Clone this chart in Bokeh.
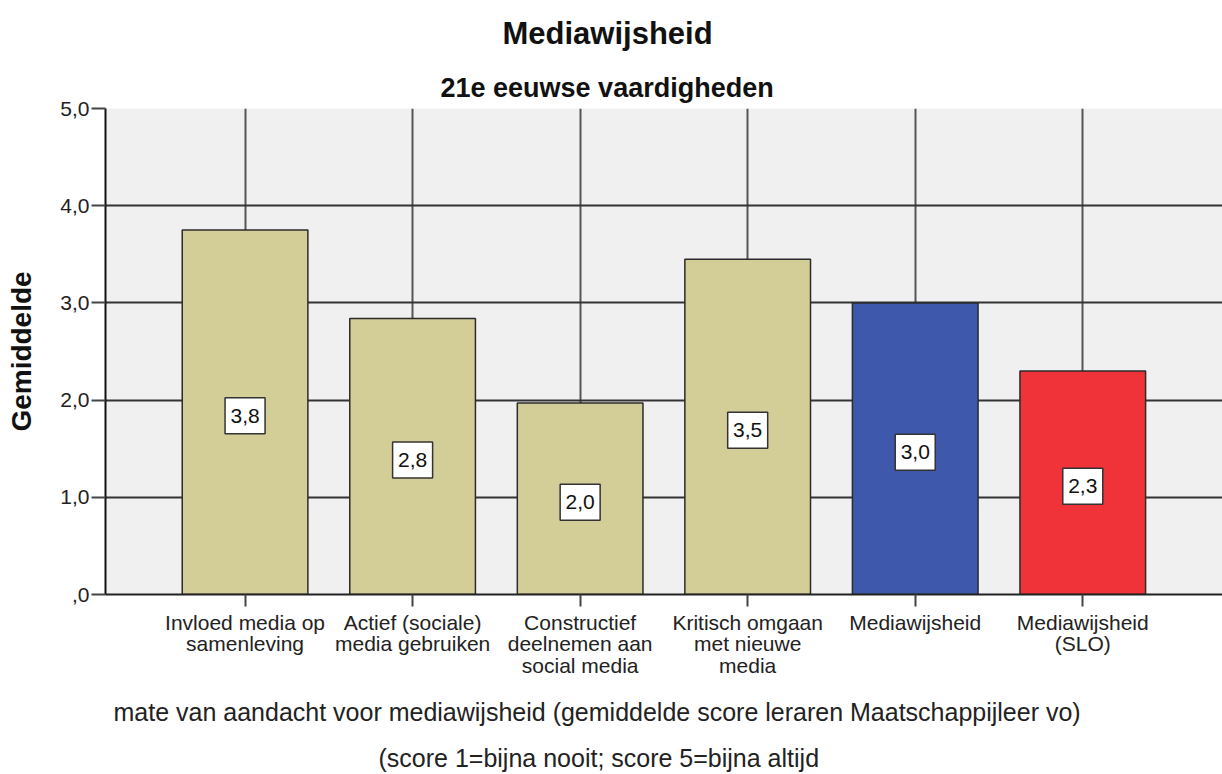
from bokeh.plotting import figure
from bokeh.models import FixedTicker, ColumnDataSource, Range1d, Title
from bokeh.core.properties import value
from bokeh.embed import file_html
from bokeh.resources import INLINE

# ---- data ----
categories = [
    "Invloed media op\nsamenleving",
    "Actief (sociale)\nmedia gebruiken",
    "Constructief\ndeelnemen aan\nsocial media",
    "Kritisch omgaan\nmet nieuwe\nmedia",
    "Mediawijsheid",
    "Mediawijsheid\n(SLO)",
]
means = [3.75, 2.84, 1.97, 3.45, 3.00, 2.30]
value_labels = ["3,8", "2,8", "2,0", "3,5", "3,0", "2,3"]
bar_colors = ["#D3CE97", "#D3CE97", "#D3CE97", "#D3CE97", "#3E58AC", "#EF3338"]
y_ticks = [0, 1, 2, 3, 4, 5]
y_tick_labels = [",0", "1,0", "2,0", "3,0", "4,0", "5,0"]
title_text = "Mediawijsheid"
subtitle_text = "21e eeuwse vaardigheden"
x_title = "mate van aandacht voor mediawijsheid (gemiddelde score leraren Maatschappijleer vo)"
x_note = "(score 1=bijna nooit; score 5=bijna altijd"
y_title = "Gemiddelde"

FONT = "Liberation Sans"
positions = list(range(len(categories)))
label_y = [m / 2 - 0.036 for m in means]

src = ColumnDataSource(dict(x=positions, top=means, color=bar_colors,
                            ly=label_y, txt=value_labels))

p = figure(width=1222, height=774, output_backend="svg", toolbar_location=None,
           x_range=Range1d(-0.833, 5.834), y_range=Range1d(0, 5),
           min_border_left=105, min_border_right=0, min_border_top=108,
           min_border_bottom=180)

p.background_fill_color = "#f0f0f0"
p.border_fill_color = "white"
p.outline_line_color = None

p.vbar(x="x", top="top", bottom=0, width=0.75, source=src, fill_color="color",
       line_color="#2b2b2b", line_width=1.5)

p.rect(x="x", y="ly", width=40, height=36, width_units="screen", height_units="screen",
       source=src, fill_color="white", line_color="#333333", line_width=1.5)
p.text(x="x", y="ly", text="txt", source=src, text_align="center",
       text_baseline="middle", text_font=value(FONT), text_font_size="21px",
       text_color="#111111")

# axes
xa = p.xaxis[0]
xa.ticker = FixedTicker(ticks=positions)
xa.major_label_overrides = {i: c for i, c in zip(positions, categories)}
xa.major_label_text_font = FONT
xa.major_label_text_font_size = "21px"
xa.major_label_text_line_height = 0.95
xa.major_label_text_color = "#222222"
xa.major_label_standoff = 4
xa.major_tick_out = 12
xa.major_tick_in = 0
xa.major_tick_line_color = "#444444"
xa.major_tick_line_width = 2
xa.minor_tick_line_color = None
xa.axis_line_color = "#222222"
xa.axis_line_width = 2

ya = p.yaxis[0]
ya.ticker = FixedTicker(ticks=y_ticks)
ya.major_label_overrides = {t: l for t, l in zip(y_ticks, y_tick_labels)}
ya.major_label_text_font = FONT
ya.major_label_text_font_size = "21px"
ya.major_label_text_color = "#222222"
ya.major_label_standoff = 2
ya.major_tick_out = 14
ya.major_tick_in = 0
ya.major_tick_line_color = "#444444"
ya.major_tick_line_width = 2
ya.minor_tick_line_color = None
ya.axis_line_color = "#111111"
ya.axis_line_width = 2
ya.axis_label = y_title
ya.axis_label_text_font = FONT
ya.axis_label_text_font_style = "bold"
ya.axis_label_text_font_size = "28px"
ya.axis_label_text_color = "#111111"
ya.axis_label_standoff = 20

p.xgrid.ticker = FixedTicker(ticks=positions)
p.xgrid.grid_line_color = "#555555"
p.xgrid.grid_line_width = 2
p.ygrid.ticker = FixedTicker(ticks=y_ticks)
p.ygrid.grid_line_color = "#333333"
p.ygrid.grid_line_width = 2

# titles above (first added is nearest to the frame)
p.add_layout(Title(text=subtitle_text, align="left", offset=335, standoff=12,
                   text_font=FONT, text_font_style="bold", text_font_size="27px",
                   text_color="#111111"), "above")
p.add_layout(Title(text=title_text, align="left", offset=397, standoff=27,
                   text_font=FONT, text_font_style="bold", text_font_size="31px",
                   text_color="#111111"), "above")

# notes below the axis
p.add_layout(Title(text=x_title, align="left", offset=8, standoff=30,
                   text_font=FONT, text_font_style="normal", text_font_size="25px",
                   text_color="#222222"), "below")
p.add_layout(Title(text=x_note, align="left", offset=273, standoff=2,
                   text_font=FONT, text_font_style="normal", text_font_size="25px",
                   text_color="#222222"), "below")

open("out.html", "w").write(file_html(p, INLINE))
